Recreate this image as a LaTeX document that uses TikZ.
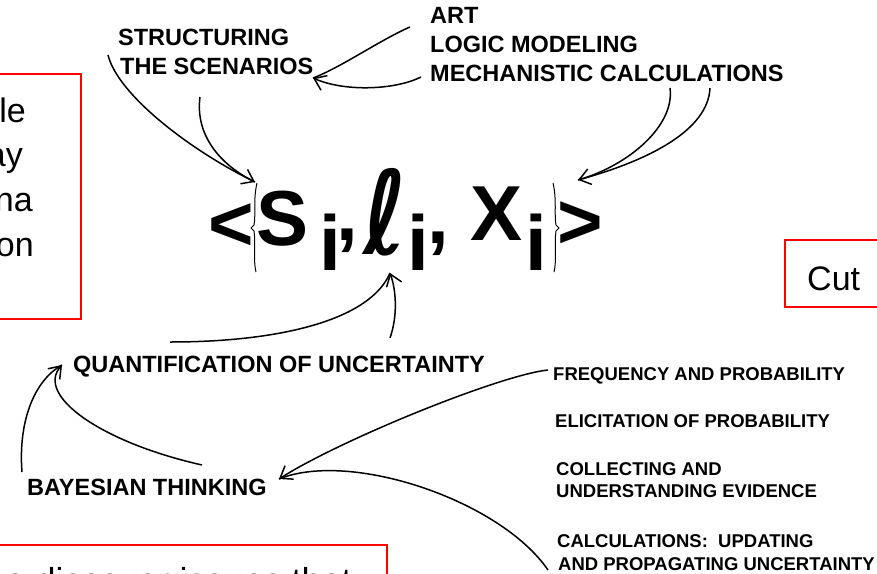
\documentclass[tikz,border=0pt]{standalone}
\usepackage{fontspec}
\setmainfont{Liberation Sans}
\newfontfamily\ellfont{DejaVu Sans}
\usetikzlibrary{arrows.meta}
\tikzset{
  lab/.style={inner sep=0, anchor=base west, font=\fontsize{23.5}{23.5}\selectfont\bfseries},
  sml/.style={inner sep=0, anchor=base west, font=\fontsize{18.5}{18.5}\selectfont\bfseries},
  arr/.style={line width=1.5pt, -{Straight Barb[length=11pt,width=16pt]}},
  crv/.style={line width=1.5pt},
  redbox/.style={draw=red, line width=2.6pt},
  big/.style={inner sep=0, anchor=center, font=\fontsize{78}{78}\selectfont\bfseries},
  ppt/.style={inner sep=0, font=\fontsize{34}{34}\selectfont},
  bracepath/.style={line width=1pt},
}
\begin{document}
\begin{tikzpicture}[x=1pt,y=-1pt]
\useasboundingbox (0,0) rectangle (877,573);
\fill[white] (0,0) rectangle (877,573);
\clip (0,0) rectangle (877,573);

% red boxes
\draw[redbox] (-10,74) rectangle (81,319);
\draw[redbox] (785,240) rectangle (900,307);
\draw[redbox] (-10,545) rectangle (387,620);
\node[ppt, anchor=base east] (t1) at (26,122) {le};
\node[ppt, anchor=base east] (t2) at (23,166) {ay};
\node[ppt, anchor=base east] (t3) at (33,211) {na};
\node[ppt, anchor=base east] (t4) at (34,256) {on};
\node[ppt, anchor=base west] (cut) at (807,290) {Cut};
\node[ppt, anchor=base east, font=\fontsize{36}{36}\selectfont] (bot) at (352,593) {e discover issues that};

% labels
\node[lab] (struct) at (118,45) {STRUCTURING};
\node[lab] (scen) at (120,74) {THE SCENARIOS};
\node[lab] (art) at (430,23) {ART};
\node[lab] (logic) at (430,52) {LOGIC MODELING};
\node[lab] (mech) at (430,81) {MECHANISTIC CALCULATIONS};
\node[lab] (quant) at (73,372) {QUANTIFICATION OF UNCERTAINTY};
\node[lab] (bayes) at (27,495) {BAYESIAN THINKING};
\node[sml] (freq) at (553,380) {FREQUENCY AND PROBABILITY};
\node[sml] (elic) at (555,427) {ELICITATION OF PROBABILITY};
\node[sml] (coll) at (556,475) {COLLECTING AND};
\node[sml] (under) at (556,497) {UNDERSTANDING EVIDENCE};
\node[sml] (calc) at (557,547) {CALCULATIONS:\ \ UPDATING};
\node[sml] (prop) at (558,570) {AND PROPAGATING UNCERTAINTY};

% formula
\node[big] (lt) at (231,227) {<};
\node[big] (S) at (282.5,218.5) {S};
\node[big] (i1) at (330,242.5) {i};
\node[big] (c1) at (347,241) {,};
\node[inner sep=0, anchor=center, font=\ellfont\bfseries\fontsize{116}{116}\selectfont] (ell) at (385,212) {\scalebox{0.8}[1]{ℓ}};
\node[big] (i2) at (418,242.5) {i};
\node[big] (c2) at (438,244) {,};
\node[big] (X) at (496.5,214) {X};
\node[big] (i3) at (536.5,242.5) {i};
\node[big] (gt) at (580,225.5) {>};
\draw[bracepath] (257,183) .. controls (253,200) and (256,215) .. (254,225) -- (251,228) -- (254,231) .. controls (256,245) and (253,260) .. (256,272);
\draw[bracepath] (553,183) .. controls (557,200) and (554,215) .. (556,225) -- (559,228) -- (556,231) .. controls (554,245) and (557,260) .. (554,272);

% coordinates
\coordinate (a1s) at (108,55);
\coordinate (a2s) at (200,97);
\coordinate (tipS) at (255,182);
\coordinate (b1s) at (410,27);
\coordinate (b2s) at (421,77);
\coordinate (tipScen) at (313,78);
\coordinate (c1s) at (670,88);
\coordinate (c2s) at (710,88);
\coordinate (tipX) at (578,180);
\coordinate (d1s) at (170,342);
\coordinate (d2s) at (390,338);
\coordinate (tipL) at (390,273);
\coordinate (e1s) at (22,472);
\coordinate (e2s) at (202,465);
\coordinate (tipQ) at (62,365);
\coordinate (f1s) at (548,370);
\coordinate (f2s) at (548,570);
\coordinate (tipB) at (279,479);

% connectors
\draw[arr] (a1s) .. controls (118,95) and (190,150) .. (tipS);
\draw[crv] (a2s) .. controls (195,135) and (220,165) .. (tipS);
\draw[crv] (b1s) .. controls (380,40) and (340,68) .. (tipScen);
\draw[arr] (b2s) .. controls (395,90) and (345,92) .. (tipScen);
\draw[crv] (c1s) .. controls (675,125) and (630,165) .. (tipX);
\draw[arr] (c2s) .. controls (708,130) and (650,160) .. (tipX);
\draw[crv] (d1s) .. controls (280,342) and (370,320) .. (tipL);
\draw[arr] (d2s) .. controls (398,315) and (396,290) .. (tipL);
\draw[crv] (e1s) .. controls (18,420) and (35,380) .. (tipQ);
\draw[arr] (e2s) .. controls (100,442) and (35,395) .. (tipQ);
\draw[arr] (f1s) .. controls (500,375) and (340,440) .. (tipB);
\draw[crv] (f2s) .. controls (500,500) and (350,450) .. (tipB);
\end{tikzpicture}
\end{document}
